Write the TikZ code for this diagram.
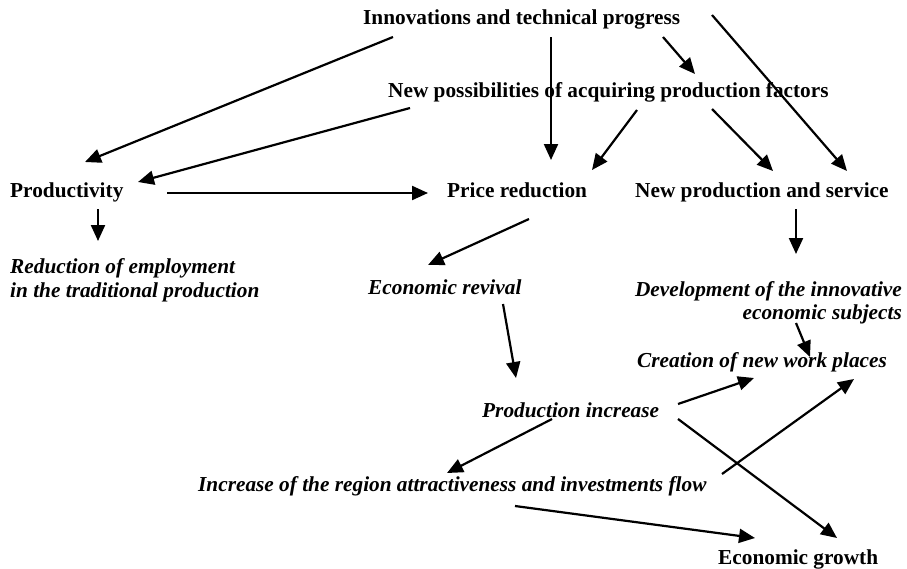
\documentclass[tikz,border=0pt]{standalone}
\usepackage{fontspec}
\setmainfont{Liberation Serif}
\usepackage{tikz}
\usetikzlibrary{arrows.meta, calc, positioning}
\tikzset{%
  factor/.style={%
    inner sep=0pt,%
    font={\fontsize{21.3pt}{23.5pt}\selectfont\bfseries},%
  },
  effect/.style={%
    inner sep=0pt,%
    font={\fontsize{21.3pt}{23.5pt}\selectfont\bfseries\itshape},%
  },
  smooth_path/.style={%
    color=black,%
    line width=2.2pt,%
    line join=round,%
  },
  arrow/.style={-{Triangle[length=16pt, width=14pt]}},
}

\begin{document}
\begin{tikzpicture}[x=1pt, y=-1pt]
    \useasboundingbox (0, 0) rectangle (907, 568);

    \node [factor, anchor=base west] (Innov) at (363, 24)
      {Innovations and technical progress};
    \node [factor, anchor=base west] (Possib) at (388, 97)
      {New possibilities of acquiring production factors};
    \node [factor, anchor=base west] (Product) at (10, 197) {Productivity};
    \node [factor, anchor=base west] (Price) at (447, 197) {Price reduction};
    \node [factor, anchor=base west] (Service) at (635, 197)
      {New production and service};
    \node [effect, anchor=west, align=left] (Employ) at (10, 280.5)
      {Reduction of employment\\in the traditional production};
    \node [effect, anchor=base west] (Revival) at (368, 294) {Economic revival};
    \node [effect, anchor=east, align=right] (Develop) at (902, 303)
      {Development of the innovative\\economic subjects};
    \node [effect, anchor=base west] (Places) at (637, 367)
      {Creation of new work places};
    \node [effect, anchor=base west] (Increase) at (482, 417)
      {Production increase};
    \node [effect, anchor=base west] (Region) at (198, 491)
      {Increase of the region attractiveness and investments flow};
    \node [factor, anchor=base west] (Growth) at (718, 564) {Economic growth};

    \draw [arrow, smooth_path]
      ($(Innov.base west)+(30, 13)$) -- ($(Product.base west)+(75, -35)$);
    \draw [arrow, smooth_path]
      ($(Possib.base west)+(22, 11)$) -- ($(Product.base west)+(128, -15)$);
    \draw [arrow, smooth_path]
      ($(Product.base west)+(157, -4)$) -- ($(Price.base west)+(-19, -4)$);
    \draw [arrow, smooth_path]
      ($(Innov.base west)+(188, 13)$) -- ($(Price.base west)+(104, -37)$);
    \draw [arrow, smooth_path]
      ($(Innov.base west)+(300, 13)$) -- ($(Possib.base west)+(307, -23)$);
    \draw [arrow, smooth_path]
      ($(Possib.base west)+(249, 13)$) -- ($(Price.base west)+(145, -27)$);
    \draw [arrow, smooth_path]
      ($(Possib.base west)+(324, 12)$) -- ($(Service.base west)+(138, -26)$);
    \draw [arrow, smooth_path]
      ($(Innov.base west)+(349, -9)$) -- ($(Service.base west)+(212, -26)$);
    \draw [arrow, smooth_path]
      ($(Product.base west)+(88, 12)$) -- ($(Employ.west)+(88, -39.5)$);
    \draw [arrow, smooth_path]
      ($(Price.base west)+(82, 22)$) -- ($(Revival.base west)+(60, -29)$);
    \draw [arrow, smooth_path]
      ($(Service.base west)+(161, 12)$) -- ($(Develop.east)+(-106, -49)$);
    \draw [arrow, smooth_path]
      ($(Revival.base west)+(135, 10)$) -- ($(Increase.base west)+(34, -39)$);
    \draw [arrow, smooth_path]
      ($(Develop.east)+(-106, 20)$) -- ($(Places.base west)+(173, -10)$);
    \draw [arrow, smooth_path]
      ($(Increase.base west)+(196, -13)$) -- ($(Places.base west)+(117, 11)$);
    \draw [arrow, smooth_path]
      ($(Region.base west)+(524, -17)$) -- ($(Places.base west)+(217, 12)$);
    \draw [arrow, smooth_path]
      ($(Increase.base west)+(196, 2)$) -- ($(Growth.base west)+(119, -26)$);
    \draw [arrow, smooth_path]
      ($(Increase.base west)+(70, 2)$) -- ($(Region.base west)+(249, -18)$);
    \draw [arrow, smooth_path]
      ($(Region.base west)+(317, 15)$) -- ($(Growth.base west)+(37, -26)$);
\end{tikzpicture}
\end{document}
